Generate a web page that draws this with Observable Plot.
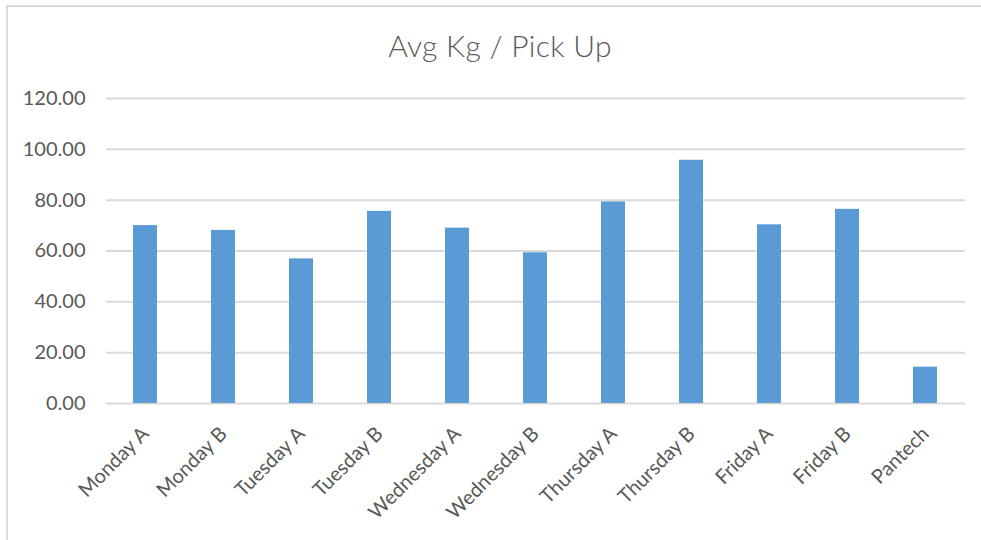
<!DOCTYPE html>
<html>
<head>
<meta charset="utf-8">
<script src="https://cdn.jsdelivr.net/npm/d3@7"></script>
<script src="https://cdn.jsdelivr.net/npm/@observablehq/plot@0.6"></script>
<style>
  html, body { margin: 0; padding: 0; background: #fff; }
  #wrap { position: relative; width: 981px; height: 540px; overflow: hidden; background: #fff; font-family: Lato, "Open Sans", sans-serif; }
  #frame { position: absolute; left: 6px; top: 5px; width: 1000px; height: 600px; border: 2px solid #d9d9d9; box-sizing: border-box; }
  #title { position: absolute; top: 27px; left: 0; width: 1000px; text-align: center; font-size: 30px; font-weight: 300; color: #595959; margin: 0; letter-spacing: 0.3px; }
  #plot { position: absolute; left: 0; top: 0; }
</style>
</head>
<body>
<div id="wrap">
  <div id="frame"></div>
  <div id="plot"></div>
  <h2 id="title">Avg Kg / Pick Up</h2>
</div>
<script>
// Average kilograms collected per pick-up, by collection round
const rounds = ["Monday A", "Monday B", "Tuesday A", "Tuesday B", "Wednesday A", "Wednesday B",
                "Thursday A", "Thursday B", "Friday A", "Friday B", "Pantech"];
const avgKg = [70.0, 68.1, 56.9, 75.6, 69.0, 59.3, 79.3, 95.7, 70.3, 76.4, 14.3];
const yTicks = [0, 20, 40, 60, 80, 100, 120];

const data = rounds.map((round, i) => ({round, kg: avgKg[i]}));

const chart = Plot.plot({
  width: 981,
  height: 540,
  marginLeft: 106,
  marginRight: 16,
  marginTop: 98,
  marginBottom: 137,
  style: {fontFamily: "Lato, 'Open Sans', sans-serif", fontSize: "20px", color: "#595959", background: "transparent", overflow: "visible"},
  x: {domain: rounds, paddingInner: 0.69, paddingOuter: 0.345, label: null},
  y: {domain: [0, 120], label: null},
  marks: [
    Plot.gridY(yTicks, {stroke: "#d9d9d9", strokeOpacity: 1, strokeWidth: 2}),
    Plot.barY(data, {x: "round", y: "kg", fill: "#5b9bd5"}),
    Plot.axisY(yTicks, {tickSize: 0, tickPadding: 21, tickFormat: d3.format(".2f"), fill: "#595959", fontSize: 20, label: null}),
    Plot.axisX({tickSize: 0, tickPadding: 27, tickRotate: -45, fill: "#595959", fontSize: 20, label: null})
  ]
});
document.getElementById("plot").appendChild(chart);
</script>
</body>
</html>
